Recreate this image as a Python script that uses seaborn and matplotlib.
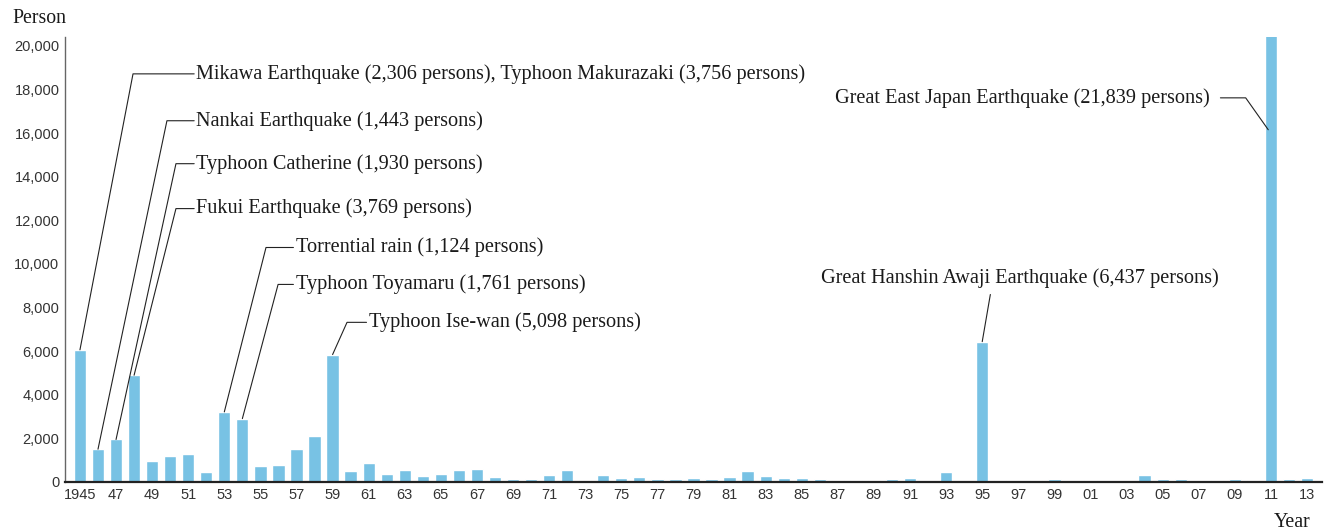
#import libraries
import pandas as pd
import seaborn as sns
import matplotlib.pyplot as plt

#data: deaths and missing persons by natural disasters, 1945-2013
years = list(range(1945, 2014))
persons = [6062, 1504, 1950, 4897, 954, 1215, 1277, 446, 3215, 2907,
           723, 769, 1507, 2107, 5845, 508, 892, 354, 569, 261,
           354, 569, 600, 231, 154, 154, 338, 569, 77, 323,
           185, 246, 154, 138, 185, 123, 231, 508, 261, 185,
           185, 123, 69, 77, 77, 123, 169, 20, 446, 31,
           6437, 77, 62, 77, 123, 62, 77, 31, 31, 323,
           138, 154, 31, 77, 123, 77, 21839, 123, 169]
tick_labels = [str(y) if y == 1945 else str(y)[2:] for y in years]

events = ['Mikawa Earthquake (2,306 persons), Typhoon Makurazaki (3,756 persons)',
          'Nankai Earthquake (1,443 persons)',
          'Typhoon Catherine (1,930 persons)',
          'Fukui Earthquake (3,769 persons)',
          'Torrential rain (1,124 persons)',
          'Typhoon Toyamaru (1,761 persons)',
          'Typhoon Ise-wan (5,098 persons)',
          'Great Hanshin Awaji Earthquake (6,437 persons)',
          'Great East Japan Earthquake (21,839 persons)']
event_years = [1945, 1946, 1947, 1948, 1953, 1954, 1959, 1995, 2011]

df = pd.DataFrame({'year': tick_labels, 'persons': persons})

sns.set_style('white')
plt.rcParams['font.family'] = ['Liberation Sans', 'DejaVu Sans']

fig = plt.figure(figsize=(13.26, 5.32), dpi=100)
ax = fig.add_axes([0.049, 0.094, 0.948, 0.836])

sns.barplot(data=df, x='year', y='persons', color='#78C2E4', saturation=1,
            width=0.68, ax=ax)

ax.set_xlim(-0.83, len(years) - 1 + 0.83)
ax.set_ylim(0, 20400)
ax.set_yticks(range(0, 20001, 2000))
ax.set_yticklabels([f'{v:,}' for v in range(0, 20001, 2000)])
ax.set_xticks(range(0, len(years), 2))
ax.set_xticklabels(tick_labels[::2])
ax.tick_params(axis='both', length=0, labelsize=10.5, colors='#333333', pad=4)
ax.set_xlabel('')
ax.set_ylabel('')

sns.despine(ax=ax)
ax.spines['left'].set_color('#666666')
ax.spines['left'].set_linewidth(1.0)
ax.spines['bottom'].set_color('#222222')
ax.spines['bottom'].set_linewidth(1.6)

serif = ['Liberation Serif', 'DejaVu Serif']
txt_col = '#1a1a1a'
fig.text(0.009, 0.965, 'Person', family=serif, fontsize=14.3, va='center', ha='left', color=txt_col)
fig.text(0.988, 0.018, 'Year', family=serif, fontsize=14.3, va='center', ha='right', color=txt_col)

#leader line layout: (elbow x, elbow y, text x) in data units
left_layout = [(2.94, 18720, 6.45), (4.82, 16570, 6.45), (5.32, 14600, 6.45),
               (5.32, 12540, 6.45), (10.31, 10756, 11.95), (10.98, 9062, 11.95),
               (14.8, 7323, 16.0)]
for i in range(7):
    idx = years.index(event_years[i])
    ex, ey, tx = left_layout[i]
    ax.plot([idx, ex, tx - 0.12], [persons[idx], ey, ey], color='#222222', lw=0.8)
    ax.text(tx, ey, events[i], family=serif, fontsize=14.6, va='center', ha='left', color=txt_col)

#Great Hanshin Awaji
idx = years.index(event_years[7])
ax.plot([idx, idx + 0.45], [persons[idx], 8600], color='#222222', lw=0.8)
ax.text(52.1, 9337, events[7], family=serif, fontsize=14.6, va='center', ha='center', color=txt_col)

#Great East Japan (bar runs above the axis)
idx = years.index(event_years[8])
ax.plot([63.2, 64.6, idx - 0.15], [17620, 17620, 16157], color='#222222', lw=0.8)
ax.text(62.6, 17620, events[8], family=serif, fontsize=14.6, va='center', ha='right', color=txt_col)

plt.savefig('out.png', dpi=100)
